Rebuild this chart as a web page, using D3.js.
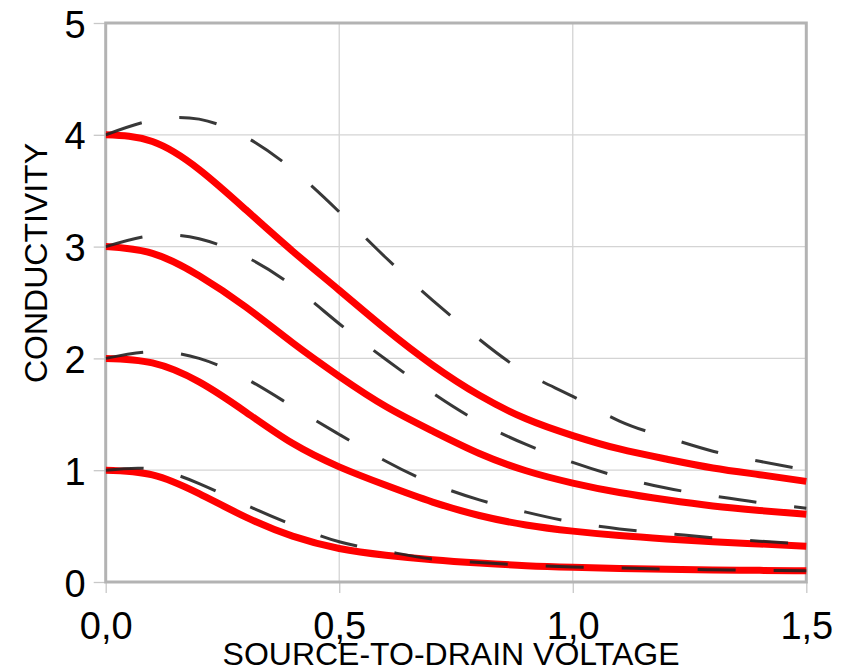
<!DOCTYPE html>
<html>
<head>
<meta charset="utf-8">
<script src="https://cdn.jsdelivr.net/npm/d3@7"></script>
<style>
  html, body { margin: 0; padding: 0; background: #ffffff; }
  svg { display: block; }
  text { font-family: "Liberation Sans", Arial, sans-serif; fill: #000; }
</style>
</head>
<body>
<svg id="chart" width="855" height="669"></svg>
<script>
// ---- data ----
const voltage = [0, 0.1, 0.2, 0.3, 0.4, 0.5, 0.6, 0.7, 0.8, 0.9, 1.0, 1.1, 1.2, 1.3, 1.4, 1.5];

const solid4 = [4.0, 3.94, 3.69, 3.33, 2.96, 2.61, 2.26, 1.94, 1.67, 1.46, 1.31, 1.19, 1.10, 1.02, 0.96, 0.90];
const solid3 = [3.0, 2.94, 2.74, 2.46, 2.14, 1.84, 1.57, 1.35, 1.15, 0.995, 0.885, 0.80, 0.735, 0.68, 0.64, 0.605];
const solid2 = [2.0, 1.96, 1.79, 1.52, 1.24, 1.03, 0.865, 0.715, 0.595, 0.51, 0.455, 0.415, 0.385, 0.36, 0.34, 0.32];
const solid1 = [1.0, 0.958, 0.79, 0.58, 0.41, 0.30, 0.24, 0.20, 0.17, 0.146, 0.131, 0.121, 0.114, 0.108, 0.104, 0.10];

const dashed4 = [4.0, 4.13, 4.14, 3.98, 3.69, 3.31, 2.90, 2.52, 2.17, 1.87, 1.66, 1.44, 1.295, 1.17, 1.08, 1.00];
const dashed3 = [3.0, 3.10, 3.07, 2.91, 2.65, 2.31, 1.99, 1.69, 1.43, 1.23, 1.07, 0.94, 0.84, 0.77, 0.71, 0.66];
const dashed2 = [2.0, 2.06, 2.00, 1.82, 1.57, 1.32, 1.08, 0.88, 0.735, 0.625, 0.535, 0.475, 0.435, 0.395, 0.365, 0.34];
const dashed1 = [1.0, 1.01, 0.88, 0.69, 0.51, 0.36, 0.275, 0.205, 0.175, 0.15, 0.135, 0.125, 0.115, 0.11, 0.105, 0.10];

const xTicks = [0, 0.5, 1.0, 1.5];
const xTickLabels = ["0,0", "0,5", "1,0", "1,5"];
const yTicks = [0, 1, 2, 3, 4, 5];
const yTickLabels = ["0", "1", "2", "3", "4", "5"];

const xTitle = "SOURCE-TO-DRAIN VOLTAGE";
const yTitle = "CONDUCTIVITY";

// ---- layout ----
const svg = d3.select("#chart");
const pL = 105.7, pR = 806.3, pT = 23, pB = 582;

const x = d3.scaleLinear().domain([0, 1.5]).range([pL, pR]);
const y = d3.scaleLinear().domain([0, 5]).range([pB, pT]);

// gridlines
const grid = svg.append("g");
grid.selectAll("line.hg").data(yTicks.filter(d => d > 0 && d < 5)).enter().append("line")
  .attr("x1", pL).attr("x2", pR)
  .attr("y1", d => y(d)).attr("y2", d => y(d))
  .attr("stroke", "#d4d4d4").attr("stroke-width", 1.3);
grid.selectAll("line.vg").data(xTicks.filter(d => d > 0 && d < 1.5)).enter().append("line")
  .attr("x1", d => x(d)).attr("x2", d => x(d))
  .attr("y1", pT).attr("y2", pB)
  .attr("stroke", "#d4d4d4").attr("stroke-width", 1.3);

// axes (ticks + labels) via d3 axes
const yAxis = d3.axisLeft(y).tickValues(yTicks).tickSize(12).tickPadding(9)
  .tickFormat((d, i) => yTickLabels[i]);
const gy = svg.append("g").attr("transform", `translate(${pL},0)`).call(yAxis);
gy.select(".domain").remove();
gy.selectAll(".tick line").attr("stroke", "#c8c8c8").attr("stroke-width", 1.3);
gy.selectAll(".tick text").attr("font-size", 38).attr("font-family", "Liberation Sans, Arial, sans-serif")
  .attr("fill", "#000").attr("dy", "0.37em").attr("x", -20);

const xAxis = d3.axisBottom(x).tickValues(xTicks).tickSize(11).tickPadding(8)
  .tickFormat((d, i) => xTickLabels[i]);
const gx = svg.append("g").attr("transform", `translate(0,${pB})`).call(xAxis);
gx.select(".domain").remove();
gx.selectAll(".tick line").attr("stroke", "#c8c8c8").attr("stroke-width", 1.3);
gx.selectAll(".tick text").attr("font-size", 38).attr("font-family", "Liberation Sans, Arial, sans-serif")
  .attr("fill", "#000").attr("dy", null).attr("y", 57);

// plot frame
svg.append("rect")
  .attr("x", pL).attr("y", pT)
  .attr("width", pR - pL).attr("height", pB - pT)
  .attr("fill", "none").attr("stroke", "#b3b3b3").attr("stroke-width", 3);

// lines
const line = d3.line()
  .x((d, i) => x(voltage[i]))
  .y(d => y(d))
  .curve(d3.curveNatural);

svg.append("clipPath").attr("id", "plotclip")
  .append("rect").attr("x", pL).attr("y", pT - 5).attr("width", pR - pL + 1).attr("height", pB - pT + 5);

const plot = svg.append("g").attr("clip-path", "url(#plotclip)");

[solid4, solid3, solid2, solid1].forEach(s => {
  plot.append("path").attr("d", line(s))
    .attr("fill", "none").attr("stroke", "#ff0000").attr("stroke-width", 7)
    .attr("stroke-linecap", "butt").attr("stroke-linejoin", "round");
});

[dashed4, dashed3, dashed2, dashed1].forEach(s => {
  plot.append("path").attr("d", line(s))
    .attr("fill", "none").attr("stroke", "#222222").attr("stroke-opacity", 0.9)
    .attr("stroke-width", 3).attr("stroke-dasharray", "38,38")
    .attr("stroke-linecap", "butt");
});

// axis titles
svg.append("text")
  .attr("x", 451).attr("y", 665)
  .attr("text-anchor", "middle")
  .attr("font-size", 32)
  .text(xTitle);

svg.append("text")
  .attr("transform", "translate(47,263) rotate(-90)")
  .attr("text-anchor", "middle")
  .attr("font-size", 32)
  .text(yTitle);
</script>
</body>
</html>
